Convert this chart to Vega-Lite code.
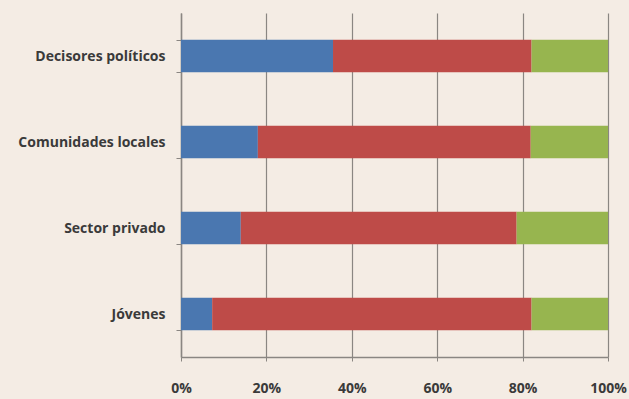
{
  "$schema": "https://vega.github.io/schema/vega-lite/v6.json",
  "autosize": "none",
  "width": 427,
  "height": 344,
  "padding": {"left": 181, "top": 13, "right": 21, "bottom": 42},
  "background": "#F4ECE4",
  "data": {
    "values": [
      {"grupo": "Decisores políticos", "serie": "A", "orden": 1, "valor": 35.6},
      {"grupo": "Decisores políticos", "serie": "B", "orden": 2, "valor": 46.5},
      {"grupo": "Decisores políticos", "serie": "C", "orden": 3, "valor": 17.9},
      {"grupo": "Comunidades locales", "serie": "A", "orden": 1, "valor": 18.0},
      {"grupo": "Comunidades locales", "serie": "B", "orden": 2, "valor": 63.9},
      {"grupo": "Comunidades locales", "serie": "C", "orden": 3, "valor": 18.1},
      {"grupo": "Sector privado", "serie": "A", "orden": 1, "valor": 14.0},
      {"grupo": "Sector privado", "serie": "B", "orden": 2, "valor": 64.6},
      {"grupo": "Sector privado", "serie": "C", "orden": 3, "valor": 21.4},
      {"grupo": "Jóvenes", "serie": "A", "orden": 1, "valor": 7.3},
      {"grupo": "Jóvenes", "serie": "B", "orden": 2, "valor": 74.8},
      {"grupo": "Jóvenes", "serie": "C", "orden": 3, "valor": 17.9}
    ]
  },
  "mark": {"type": "bar"},
  "encoding": {
    "y": {
      "field": "grupo",
      "type": "nominal",
      "sort": ["Decisores políticos", "Comunidades locales", "Sector privado", "Jóvenes"],
      "scale": {"paddingInner": 0.62, "paddingOuter": 0.31},
      "axis": {
        "title": null,
        "domainColor": "#8a8682",
        "domainWidth": 1.5,
        "tickBand": "extent",
        "tickColor": "#8a8682",
        "tickSize": 5,
        "labelFont": "Open Sans",
        "labelFontWeight": "bold",
        "labelFontSize": 14,
        "labelColor": "#3a3a3a",
        "labelPadding": 11,
        "labelLimit": 300
      }
    },
    "x": {
      "field": "valor",
      "type": "quantitative",
      "stack": "normalize",
      "scale": {"domain": [0, 1], "nice": false},
      "axis": {
        "title": null,
        "format": ".0%",
        "values": [0, 0.2, 0.4, 0.6, 0.8, 1],
        "grid": true,
        "gridColor": "#8a8682",
        "gridWidth": 1.2,
        "domainColor": "#8a8682",
        "domainWidth": 1.5,
        "tickColor": "#8a8682",
        "tickSize": 4,
        "labelFlush": false,
        "labelOverlap": false,
        "labelFont": "Open Sans",
        "labelFontWeight": "bold",
        "labelFontSize": 14,
        "labelColor": "#3a3a3a",
        "labelPadding": 20
      }
    },
    "color": {
      "field": "serie",
      "type": "nominal",
      "scale": {"domain": ["A", "B", "C"], "range": ["#4A77B0", "#BE4B48", "#97B54F"]},
      "legend": null
    },
    "order": {"field": "orden", "type": "quantitative"}
  },
  "config": {"view": {"stroke": null}, "axis": {"gridOpacity": 1}}
}
